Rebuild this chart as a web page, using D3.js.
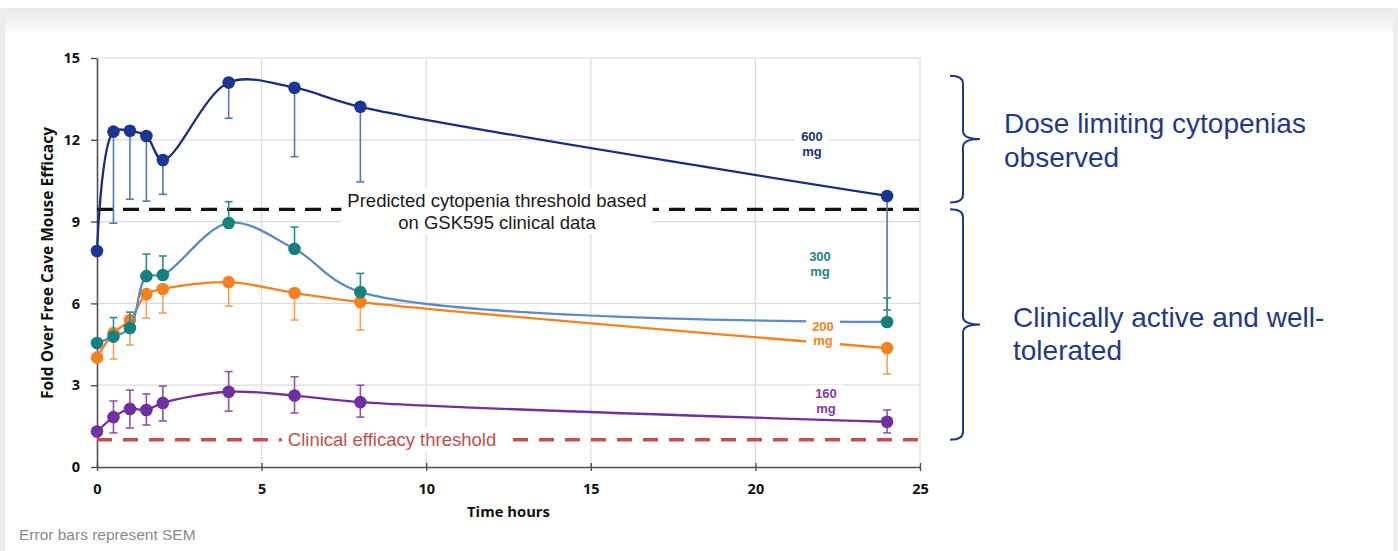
<!DOCTYPE html>
<html>
<head>
<meta charset="utf-8">
<script src="https://cdn.jsdelivr.net/npm/d3@7"></script>
<style>
  body { margin: 0; background: #fff; }
  svg { display: block; font-family: "Liberation Sans", Arial, sans-serif; }
</style>
</head>
<body>
<div id="chart"></div>
<script>
// ---- data ----
const times   = [0, 0.5, 1, 1.5, 2, 4, 6, 8, 24];

const dose600 = [7.92, 12.3, 12.33, 12.14, 11.26, 14.1, 13.91, 13.21, 9.94];
const low600  = [null, 8.94, 9.82, 9.75, 10.0, 12.79, 11.38, 10.46, 5.76];

const dose300  = [4.55, 4.78, 5.1, 7.0, 7.04, 8.95, 8.0, 6.42, 5.32];
const high300  = [null, 5.48, 5.68, 7.81, 7.74, 9.73, 8.8, 7.1, 6.2];

const dose200 = [4.01, 4.91, 5.39, 6.34, 6.53, 6.78, 6.38, 6.05, 4.36];
const low200  = [null, 3.96, 4.47, 5.46, 5.65, 5.9, 5.39, 5.02, 3.41];

const dose160 = [1.3, 1.83, 2.13, 2.09, 2.35, 2.76, 2.62, 2.38, 1.66];
const high160 = [null, 2.42, 2.82, 2.68, 2.97, 3.5, 3.31, 3.0, 2.09];
const low160  = [null, 1.25, 1.43, 1.54, 1.69, 2.05, 1.98, 1.83, 1.25];

const xTicks = [0, 5, 10, 15, 20, 25];
const yTicks = [0, 3, 6, 9, 12, 15];

const cytopeniaThreshold = 9.45;
const efficacyThreshold  = 1.0;

// ---- layout ----
const W = 1398, H = 551;
const mLeft = 97, mTop = 58, plotW = 823, plotH = 409;

const svg = d3.select('#chart').append('svg')
  .attr('width', W).attr('height', H);

// slide frame
const defs = svg.append('defs');
const grad = defs.append('linearGradient').attr('id', 'shade')
  .attr('x1', 0).attr('y1', 0).attr('x2', 0).attr('y2', 1);
grad.append('stop').attr('offset', 0).attr('stop-color', '#e9e9e9');
grad.append('stop').attr('offset', 1).attr('stop-color', '#ffffff');
svg.append('rect').attr('width', W).attr('height', H).attr('fill', '#fff');
svg.append('rect').attr('x', 0).attr('y', 8).attr('width', W).attr('height', 28).attr('fill', 'url(#shade)');
svg.append('rect').attr('x', 0).attr('y', 8).attr('width', 5).attr('height', H).attr('fill', '#ededed');
svg.append('rect').attr('x', W - 5).attr('y', 8).attr('width', 5).attr('height', H).attr('fill', '#ededed');

const x = d3.scaleLinear().domain([0, 25]).range([mLeft, mLeft + plotW]);
const y = d3.scaleLinear().domain([0, 15]).range([mTop + plotH, mTop]);

// ---- grid ----
const grid = svg.append('g');
grid.selectAll('.gy').data(yTicks.slice(1)).enter().append('line')
  .attr('x1', mLeft).attr('x2', mLeft + plotW)
  .attr('y1', d => y(d)).attr('y2', d => y(d))
  .attr('stroke', '#dcdcdc').attr('stroke-width', 1.2);
grid.selectAll('.gx').data(xTicks.slice(1)).enter().append('line')
  .attr('x1', d => x(d)).attr('x2', d => x(d))
  .attr('y1', mTop).attr('y2', mTop + plotH)
  .attr('stroke', '#dcdcdc').attr('stroke-width', 1.2);

// ---- axes ----
const xAxis = svg.append('g')
  .attr('transform', `translate(0,${mTop + plotH})`)
  .call(d3.axisBottom(x).tickValues(xTicks).tickSizeInner(4).tickSizeOuter(0).tickPadding(13));
xAxis.selectAll('.tick line').attr('y1', -4).attr('y2', 4);
const yAxis = svg.append('g')
  .attr('transform', `translate(${mLeft},0)`)
  .call(d3.axisLeft(y).tickValues(yTicks).tickSizeInner(6).tickSizeOuter(0).tickPadding(11));
[xAxis, yAxis].forEach(a => {
  a.select('.domain').attr('stroke', '#505050').attr('stroke-width', 1.6);
  a.selectAll('.tick line').attr('stroke', '#505050').attr('stroke-width', 1.4);
  a.selectAll('.tick text').attr('font-size', 14.5).attr('font-weight', 'bold')
    .attr('fill', '#111').attr('font-family', '"Open Sans", "Liberation Sans", sans-serif');
});

svg.append('text')
  .attr('transform', `translate(53,${263}) rotate(-90)`)
  .attr('text-anchor', 'middle')
  .attr('font-size', 15.5).attr('font-weight', 'bold').attr('fill', '#111')
  .attr('font-family', '"Open Sans", "Liberation Sans", sans-serif')
  .text('Fold Over Free Cave Mouse Efficacy');
svg.append('text')
  .attr('x', x(12.5)).attr('y', 517)
  .attr('text-anchor', 'middle')
  .attr('font-size', 14.8).attr('font-weight', 'bold').attr('fill', '#111')
  .attr('font-family', '"Open Sans", "Liberation Sans", sans-serif')
  .text('Time hours');

// ---- threshold lines ----
svg.append('line')
  .attr('x1', x(0)).attr('x2', x(25))
  .attr('y1', y(cytopeniaThreshold)).attr('y2', y(cytopeniaThreshold))
  .attr('stroke', '#111').attr('stroke-width', 3.4).attr('stroke-dasharray', '16 10');
svg.append('line')
  .attr('x1', x(0)).attr('x2', x(25))
  .attr('y1', y(efficacyThreshold)).attr('y2', y(efficacyThreshold))
  .attr('stroke', '#c0504d').attr('stroke-width', 3.4).attr('stroke-dasharray', '15 11');

// ---- series ----
const series = [
  { vals: dose160, lo: low160, hi: high160, line: '#7030a0', dot: '#7030a0', err: '#8b55b5' },
  { vals: dose200, lo: low200, hi: null, line: '#f58220', dot: '#f58220', err: '#f5a05a' },
  { vals: dose300, lo: null, hi: high300, line: '#5b8cc6', dot: '#16807e', err: '#2b8f8c' },
  { vals: dose600, lo: low600, hi: null, line: '#172f7c', dot: '#1c3592', err: '#5577b5' }
];

const lineGen = d3.line()
  .x(d => x(d[0])).y(d => y(d[1]))
  .curve(d3.curveCatmullRom.alpha(0.5));

series.forEach(s => {
  const pts = times.map((t, i) => [t, s.vals[i]]);
  const g = svg.append('g');
  g.append('path').datum(pts).attr('d', lineGen)
    .attr('fill', 'none').attr('stroke', s.line).attr('stroke-width', 2.3);

  // error bars
  times.forEach((t, i) => {
    const ends = [];
    if (s.lo && s.lo[i] != null) ends.push(s.lo[i]);
    if (s.hi && s.hi[i] != null) ends.push(s.hi[i]);
    ends.forEach(e => {
      g.append('line')
        .attr('x1', x(t)).attr('x2', x(t))
        .attr('y1', y(s.vals[i])).attr('y2', y(e))
        .attr('stroke', s.err).attr('stroke-width', 1.6);
      g.append('line')
        .attr('x1', x(t) - 4).attr('x2', x(t) + 4)
        .attr('y1', y(e)).attr('y2', y(e))
        .attr('stroke', s.err).attr('stroke-width', 1.6);
    });
  });

  g.selectAll('circle').data(pts).enter().append('circle')
    .attr('cx', d => x(d[0])).attr('cy', d => y(d[1])).attr('r', 6.3)
    .attr('fill', s.dot);
});

// ---- labels with white boxes ----
function boxedText(lines, cx, cy, size, color, weight, lh) {
  const g = svg.append('g');
  const rect = g.append('rect').attr('fill', '#fff');
  const t = g.append('text')
    .attr('text-anchor', 'middle')
    .attr('font-size', size).attr('font-weight', weight).attr('fill', color);
  lines.forEach((l, i) => {
    t.append('tspan').attr('x', cx).attr('y', cy + i * lh).text(l);
  });
  const b = t.node().getBBox();
  rect.attr('x', b.x - 6).attr('y', b.y - 1).attr('width', b.width + 12).attr('height', b.height + 2);
  return g;
}

boxedText(['Predicted cytopenia threshold based', 'on GSK595 clinical data'],
  497, 207, 18.5, '#1a1a1a', 'normal', 22);
boxedText(['Clinical efficacy threshold'], 392, 446, 18.5, '#c0504d', 'normal', 0);

boxedText(['600', 'mg'], 812, 141, 13, '#1b3278', 'bold', 15);
boxedText(['300', 'mg'], 820, 261, 13, '#1a8583', 'bold', 15);
boxedText(['200', 'mg'], 823, 331, 13, '#f58220', 'bold', 14);
boxedText(['160', 'mg'], 826, 398, 13, '#7f3aa6', 'bold', 15);

// ---- braces ----
function brace(yTop, yBot) {
  const x0 = 950, x1 = 963, x2 = 980, r = 8;
  const mid = (yTop + yBot) / 2;
  const p = d3.path();
  p.moveTo(x0, yTop);
  p.quadraticCurveTo(x1, yTop, x1, yTop + r);
  p.lineTo(x1, mid - r);
  p.quadraticCurveTo(x1, mid, x2, mid);
  p.quadraticCurveTo(x1, mid, x1, mid + r);
  p.lineTo(x1, yBot - r);
  p.quadraticCurveTo(x1, yBot, x0, yBot);
  svg.append('path').attr('d', p.toString())
    .attr('fill', 'none').attr('stroke', '#1f3a8a').attr('stroke-width', 2);
}
brace(y(14.35), y(9.7));
brace(y(9.45), y(1.0));

const noteColor = '#1f3a8a';
[['Dose limiting cytopenias', 1004, 133], ['observed', 1004, 167],
 ['Clinically active and well-', 1013, 327], ['tolerated', 1013, 360]].forEach(d => {
  svg.append('text').attr('x', d[1]).attr('y', d[2])
    .attr('font-size', 28).attr('fill', noteColor).text(d[0]);
});

svg.append('text').attr('x', 19).attr('y', 540)
  .attr('font-size', 15.5).attr('fill', '#8a8a8a')
  .text('Error bars represent SEM');
</script>
</body>
</html>
